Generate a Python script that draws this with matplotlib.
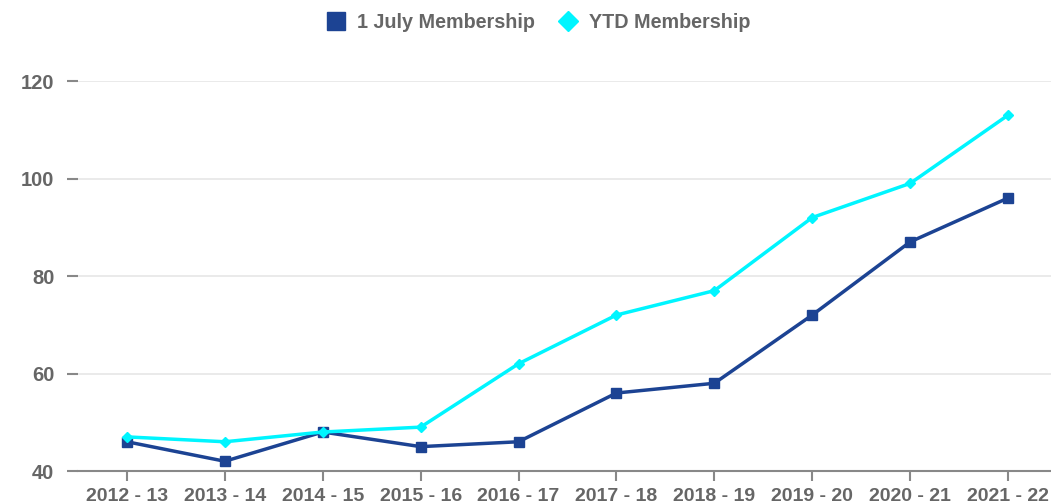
import matplotlib.pyplot as plt
from matplotlib.lines import Line2D

plt.rcParams['font.family'] = ['Liberation Sans', 'DejaVu Sans']

seasons = ['2012 - 13', '2013 - 14', '2014 - 15', '2015 - 16', '2016 - 17',
           '2017 - 18', '2018 - 19', '2019 - 20', '2020 - 21', '2021 - 22']
july = [46, 42, 48, 45, 46, 56, 58, 72, 87, 96]
ytd = [47, 46, 48, 49, 62, 72, 77, 92, 99, 113]

navy = '#1c4393'
cyan = '#00f5ff'
grey = '#666666'

fig = plt.figure(figsize=(10.51, 5.03), dpi=100)
ax = fig.add_axes([0.0742, 0.0636, 0.9315, 0.7753])

x = range(len(seasons))
ax.plot(x, july, color=navy, lw=2.5, marker='s', ms=7, clip_on=False, zorder=3)
ax.plot(x, ytd, color=cyan, lw=2.5, marker='D', ms=5.5, clip_on=False, zorder=4)

ax.set_xlim(-0.5, 9.5)
ax.set_ylim(40, 120)
ax.set_yticks([40, 60, 80, 100, 120])
ax.set_xticks(list(x))
ax.set_xticklabels(seasons)

ax.grid(axis='y', color='#e6e6e6', lw=1.2)
ax.set_axisbelow(True)
for s in ['top', 'right', 'left']:
    ax.spines[s].set_visible(False)
ax.spines['bottom'].set_color('#888888')
ax.spines['bottom'].set_linewidth(1.5)

ax.tick_params(axis='x', colors='#888888', length=7, width=1.5, pad=5,
               labelsize=14, labelcolor=grey)
ax.tick_params(axis='y', colors='#888888', length=8, width=1.5, pad=9,
               labelsize=14.5, labelcolor=grey)
for lab in ax.get_xticklabels() + ax.get_yticklabels():
    lab.set_fontweight('bold')

handles = [Line2D([], [], color=navy, marker='s', ls='', ms=13),
           Line2D([], [], color=cyan, marker='D', ls='', ms=10.5)]
fig.legend(handles, ['1 July Membership', 'YTD Membership'], loc='center',
           bbox_to_anchor=(0.511, 0.955), ncol=2, frameon=False,
           prop={'size': 14.2, 'weight': 'bold'}, labelcolor=grey,
           handletextpad=0.45, columnspacing=1.1, handlelength=1.2)

fig.savefig('out.png', dpi=100)
